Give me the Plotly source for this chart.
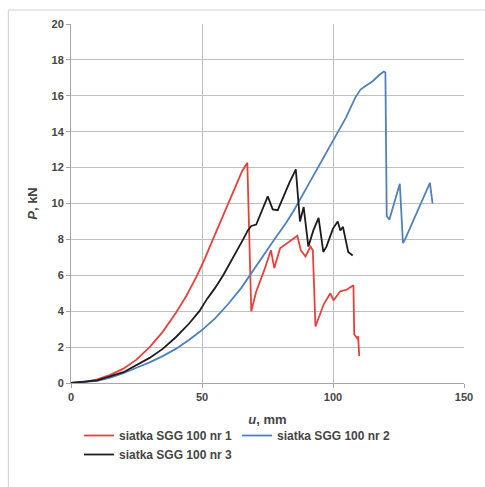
import plotly.graph_objects as go

# Series 1: siatka SGG 100 nr 1 (red)
u1 = [0, 5, 10, 15, 20, 25, 30, 35, 40, 44, 48, 51, 54, 57, 60, 63, 65.3, 67.3, 68.8, 70.7,
      73.8, 76.3, 77.6, 79.8, 82.6, 84.5, 86.4, 87.7, 89.5, 91.4, 92.3, 93.3, 96.5, 99.0, 100.2,
      102.7, 105.2, 107.8, 108.1, 109.2, 109.6, 110.0]
p1 = [0, 0.05, 0.2, 0.45, 0.8, 1.3, 2.0, 2.85, 3.9, 4.85, 5.95, 6.9, 7.95, 9.0, 10.0, 11.0, 11.8,
      12.27, 4.0, 5.1, 6.3, 7.4, 6.4, 7.5, 7.8, 8.0, 8.2, 7.4, 7.05, 7.6, 7.4, 3.15, 4.4, 5.0, 4.6,
      5.1, 5.2, 5.45, 2.7, 2.5, 2.6, 1.5]

# Series 2: siatka SGG 100 nr 2 (blue)
u2 = [0, 10, 15, 20, 25, 30, 35, 40, 45, 50, 55, 60, 65, 68.2, 72, 77.6, 82, 85, 90, 95, 100, 105,
      108.5, 110.5, 112, 115, 118, 119.4, 120.0, 120.5, 121.5, 125.5, 126.7, 127.5, 137.0, 138.0]
p2 = [0, 0.12, 0.3, 0.55, 0.85, 1.15, 1.5, 1.9, 2.4, 2.95, 3.6, 4.4, 5.3, 6.0, 6.8, 8.0, 8.9, 9.6,
      10.9, 12.2, 13.5, 14.8, 15.9, 16.35, 16.5, 16.8, 17.2, 17.35, 17.3, 9.3, 9.1, 11.1, 7.8, 8.0,
      11.15, 10.0]

# Series 3: siatka SGG 100 nr 3 (black)
u3 = [0, 10, 20, 25, 30, 35, 40, 45, 49, 52, 55, 58.1, 62, 65.7, 67.5, 68.8, 70.7, 75.1, 77.0,
      78.9, 83.5, 85.8, 87.4, 88.8, 90.6, 92.5, 94.5, 96.3, 97.5, 100.0, 101.8, 102.8, 103.8,
      105.8, 107.5]
p3 = [0, 0.15, 0.6, 1.0, 1.4, 1.9, 2.55, 3.3, 4.0, 4.7, 5.3, 6.0, 7.0, 8.0, 8.5, 8.75, 8.83,
      10.4, 9.67, 9.63, 11.2, 11.9, 9.0, 9.8, 7.6, 8.5, 9.2, 7.3, 7.6, 8.6, 9.0, 8.5, 8.7, 7.3, 7.1]

names = ["siatka SGG 100 nr 1", "siatka SGG 100 nr 2", "siatka SGG 100 nr 3"]
colors = ["#e8413b", "#4f81bd", "#1c1c1c"]

x_ticks = [0, 50, 100, 150]
y_ticks = [0, 2, 4, 6, 8, 10, 12, 14, 16, 18, 20]

fig = go.Figure()
for u, p, n, c in zip([u1, u2, u3], [p1, p2, p3], names, colors):
    fig.add_trace(go.Scatter(x=u, y=p, mode="lines", name=n,
                             line=dict(color=c, width=1.8)))

L, R, T, B = 71, 19, 24, 104
W, H = 485, 487
pw, ph = W - L - R, H - T - B
txt = "#454545"
fam = "Arial, Liberation Sans, sans-serif"

fig.update_layout(
    width=W, height=H,
    margin=dict(l=L, r=R, t=T, b=B),
    paper_bgcolor="white", plot_bgcolor="white",
    font=dict(family=fam, size=11, color=txt, weight="bold"),
    xaxis=dict(range=[0, 150], tickvals=x_ticks, showgrid=True, gridcolor="#bfbfbf",
               gridwidth=1, showline=True, linecolor="#a6a6a6", mirror=False,
               ticks="outside", ticklen=4, tickcolor="#a6a6a6", zeroline=False,
               tickfont=dict(family=fam, size=11, color=txt, weight="bold"),
               title=dict(text="<i>u</i>, mm", font=dict(family=fam, size=13, color=txt, weight="bold"),
                          standoff=12)),
    yaxis=dict(range=[0, 20], tickvals=y_ticks, showgrid=True, gridcolor="#bfbfbf",
               gridwidth=1, showline=True, linecolor="#a6a6a6",
               ticks="outside", ticklen=4, tickcolor="#a6a6a6", zeroline=False,
               tickfont=dict(family=fam, size=11, color=txt, weight="bold"),
               title=dict(text="<i>P</i>, kN", font=dict(family=fam, size=13, color=txt, weight="bold"),
                          standoff=10)),
    legend=dict(orientation="h", x=(79 - L) / pw, y=(H - B - 421) / ph, xanchor="left",
                yanchor="top", font=dict(family=fam, size=12, color=txt, weight="bold"),
                bgcolor="rgba(0,0,0,0)", tracegroupgap=0, itemwidth=30),
    showlegend=True,
)

# outer chart frame (extends past right and bottom edges)
fig.add_shape(type="rect", xref="paper", yref="paper",
              x0=(8 - L) / pw, x1=(492 - L) / pw, y0=(H - B - 495) / ph, y1=(H - B - 10) / ph,
              line=dict(color="#d0d0d0", width=1), layer="below")

fig.write_html("out.html", config={"displayModeBar": False},
               post_script="document.body.style.margin='0';document.body.style.overflow='hidden';")
